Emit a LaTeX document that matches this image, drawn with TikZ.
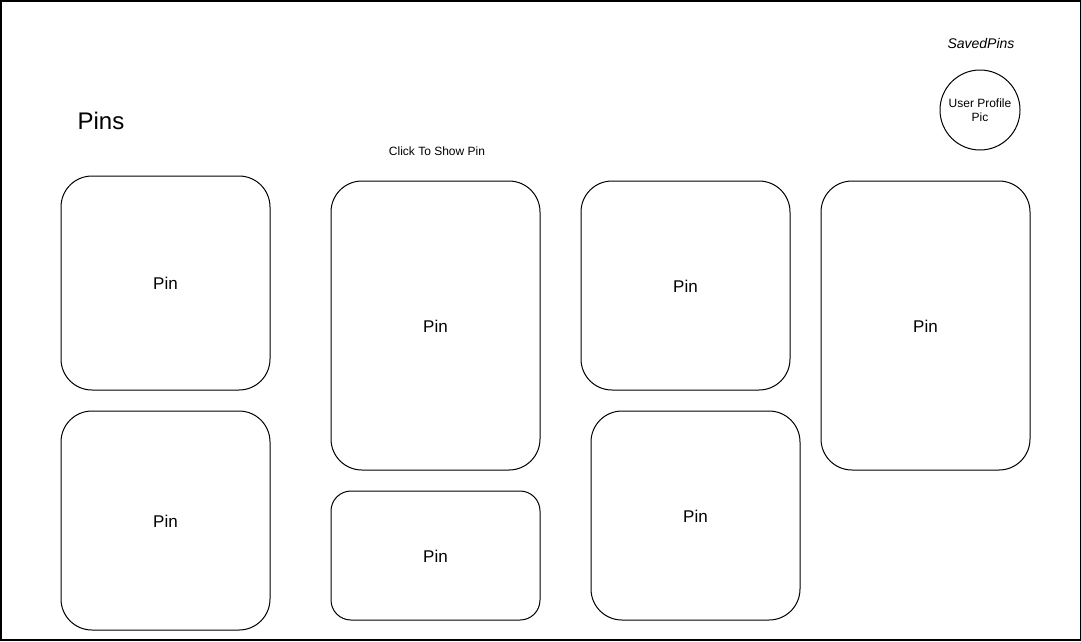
\documentclass[tikz,border=0pt]{standalone}
\usepackage{fontspec}
\setmainfont{Liberation Sans}
\begin{document}
\begin{tikzpicture}[x=1pt,y=-1pt,
  pinbox/.style={draw=black, line width=1pt, fill=white},
  pinlabel/.style={font=\fontsize{17}{20}\selectfont, inner sep=0pt},
  smalltext/.style={font=\fontsize{12}{14}\selectfont, inner sep=0pt, align=center}]
% page frame
\useasboundingbox (0,0) rectangle (1081,641);
\draw[line width=1.5pt] (0.75,0.75) rectangle (1080.25,639.75);

% headings
\node[font=\fontsize{24}{28}\selectfont, inner sep=0pt] (title) at (101,121) {Pins};
\node[font=\itshape\fontsize{14}{17}\selectfont, inner sep=0pt] (saved) at (981,43) {SavedPins};
\node[smalltext] (hint) at (437,151) {Click To Show Pin};

% profile picture
\node[draw, circle, line width=1pt, minimum size=80pt, inner sep=0pt, smalltext] (avatar) at (980,110) {User Profile\\Pic};

% pin cards
\draw[pinbox, rounded corners=31pt] (61,176) rectangle (270,390);
\node[pinlabel] (p1) at (165.5,283) {Pin};
\draw[pinbox, rounded corners=31pt] (61,411) rectangle (270,630);
\node[pinlabel] (p2) at (165.5,521) {Pin};
\draw[pinbox, rounded corners=31pt] (331,181) rectangle (540,470);
\node[pinlabel] (p3) at (435.5,326) {Pin};
\draw[pinbox, rounded corners=20pt] (331,491) rectangle (540,620);
\node[pinlabel] (p4) at (435.5,556) {Pin};
\draw[pinbox, rounded corners=31pt] (581,181) rectangle (790,390);
\node[pinlabel] (p5) at (685.5,286) {Pin};
\draw[pinbox, rounded corners=31pt] (591,411) rectangle (800,620);
\node[pinlabel] (p6) at (695.5,516) {Pin};
\draw[pinbox, rounded corners=31pt] (821,181) rectangle (1030,470);
\node[pinlabel] (p7) at (925.5,326) {Pin};
\end{tikzpicture}
\end{document}
